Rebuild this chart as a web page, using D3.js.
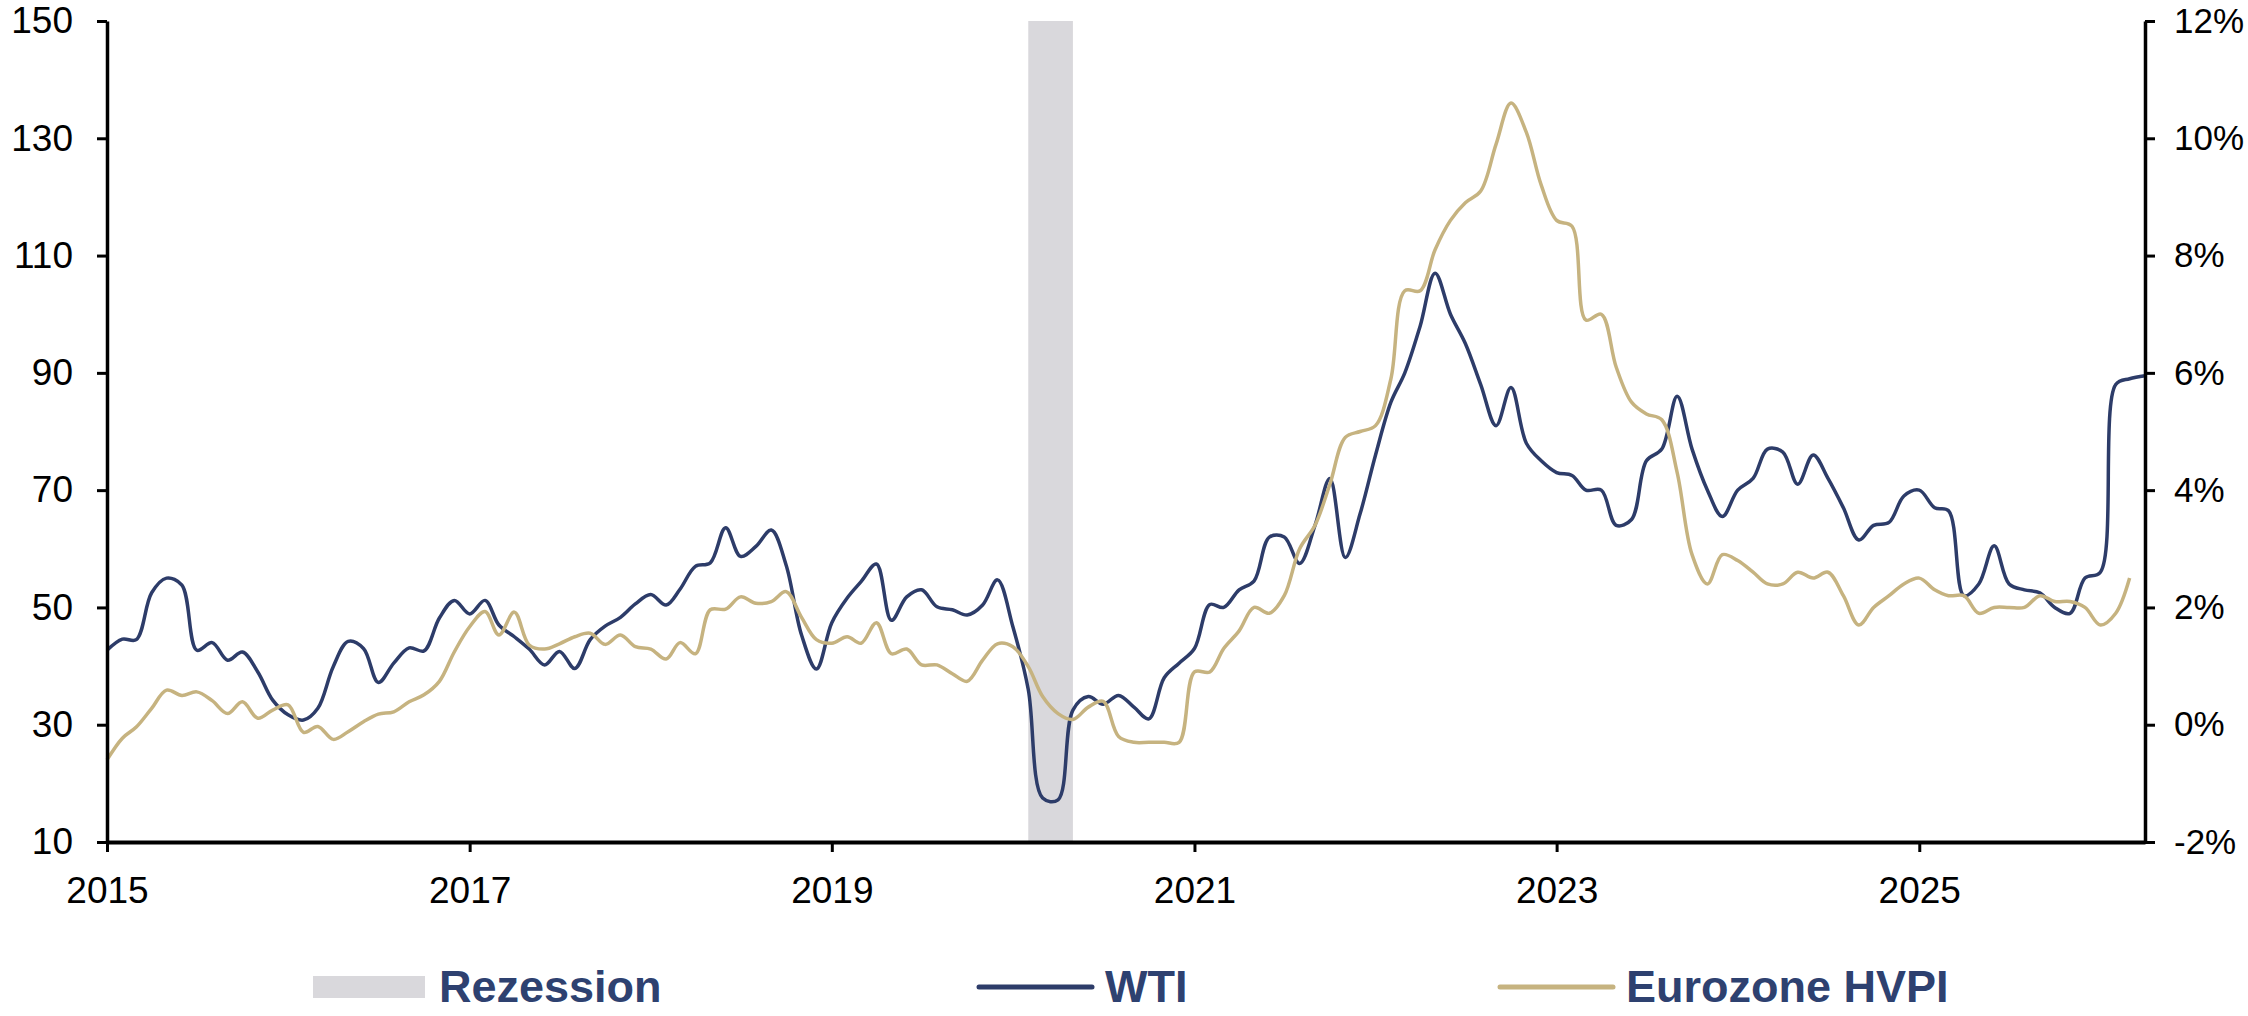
<!DOCTYPE html>
<html lang="de">
<head>
<meta charset="utf-8">
<title>WTI und Eurozone HVPI</title>
<script src="https://cdn.jsdelivr.net/npm/d3@7"></script>
<style>
  html, body { margin: 0; padding: 0; background: #fff; }
  svg { display: block; font-family: 'Liberation Sans', Arial, Helvetica, sans-serif; }
</style>
</head>
<body>
<div id="chart"></div>
<script>

// ── Daten ────────────────────────────────────────────────────────────────
// Monatswerte ab Januar 2015

const first_month = new Date(2015, 0, 1);
const last_month  = new Date(2026, 3, 1);

// WTI (linke Achse)
const wti = [
  42.7, 44.6, 44.5, 52.5, 55.0, 53.8, 42.7, 44.0, 41.0, 42.4, 39.0, 34.2,   // 2015
  31.7, 30.8, 32.8, 39.9, 44.2, 43.0, 37.2, 40.5, 43.1, 42.6, 48.2, 51.2,   // 2016
  48.9, 51.2, 47.0, 45.0, 42.9, 40.2, 42.5, 39.6, 44.5, 46.8, 48.3, 50.6,   // 2017
  52.2, 50.4, 53.1, 57.0, 57.6, 63.6, 58.7, 60.4, 63.2, 57.2, 45.3, 39.5,   // 2018
  47.4, 51.6, 54.4, 57.4, 47.8, 51.8, 53.0, 50.1, 49.6, 48.7, 50.4, 54.7,   // 2019
  46.7, 36.0, 17.5, 17.2, 32.5, 34.8, 33.5, 35.0, 33.0, 31.0, 38.0, 40.5,   // 2020
  43.0, 50.5, 50.0, 53.0, 54.5, 62.0, 62.0, 57.5, 64.0, 72.0, 58.5, 66.0,   // 2021
  76.0, 85.0, 90.0, 98.0, 107.0, 100.0, 95.0, 88.0, 81.0, 87.5, 78.0, 75.0, // 2022
  73.0, 72.5, 70.0, 70.0, 64.0, 65.0, 75.0, 77.0, 86.0, 77.0, 70.0, 65.5,   // 2023
  70.0, 72.0, 77.0, 76.5, 71.0, 76.0, 72.0, 67.0, 61.5, 64.0, 64.5, 69.0,   // 2024
  70.0, 67.0, 66.5, 52.0, 54.0, 60.5, 54.0, 53.0, 52.5, 50.0, 49.0, 55.0,   // 2025
  56.0, 88.0, 89.0, 89.5                                                    // 2026
];

// Eurozone HVPI in % ggü. Vorjahr (rechte Achse)
const hvpi = [
  -0.60, -0.23, -0.04, 0.28, 0.59, 0.50, 0.56, 0.41, 0.19, 0.39, 0.11, 0.25,  // 2015
   0.34, -0.13, -0.03, -0.25, -0.12, 0.05, 0.18, 0.22, 0.39, 0.51, 0.74, 1.24, // 2016
   1.67, 1.93, 1.53, 1.92, 1.36, 1.29, 1.38, 1.50, 1.56, 1.37, 1.53, 1.33,    // 2017
   1.29, 1.12, 1.40, 1.21, 1.96, 1.97, 2.18, 2.07, 2.10, 2.27, 1.83, 1.45,    // 2018
   1.39, 1.50, 1.39, 1.74, 1.21, 1.29, 1.02, 1.02, 0.87, 0.74, 1.10, 1.38,    // 2019
   1.33, 0.99, 0.48, 0.19, 0.09, 0.30, 0.40, -0.20, -0.30, -0.30, -0.30, -0.30, // 2020
   0.9, 0.9, 1.3, 1.6, 2.0, 1.9, 2.2, 3.0, 3.4, 4.1, 4.9, 5.0,                // 2021
   5.1, 5.9, 7.4, 7.4, 8.1, 8.6, 8.9, 9.1, 9.9, 10.6, 10.1, 9.2,              // 2022
   8.6, 8.5, 6.9, 7.0, 6.1, 5.5, 5.3, 5.2, 4.3, 2.9, 2.4, 2.9,                // 2023
   2.8, 2.6, 2.4, 2.4, 2.6, 2.5, 2.6, 2.2, 1.7, 2.0, 2.2, 2.4,                // 2024
   2.5, 2.3, 2.2, 2.2, 1.9, 2.0, 2.0, 2.0, 2.2, 2.1, 2.1, 2.0,                // 2025
   1.7, 1.9, 2.5                                                              // 2026
];

// Rezession (Monatsanfang bis Monatsanfang)
const recession = [new Date(2020, 1, 1), new Date(2020, 4, 1)];

// Achsenbeschriftungen
const year_ticks  = [2015, 2017, 2019, 2021, 2023, 2025];
const left_ticks  = [10, 30, 50, 70, 90, 110, 130, 150];
const right_ticks = [-2, 0, 2, 4, 6, 8, 10, 12];

const legend_items = [
  { label: 'Rezession',     type: 'rect' },
  { label: 'WTI',           type: 'line', color: '#2d3c69' },
  { label: 'Eurozone HVPI', type: 'line', color: '#c6b380' }
];

// ── Setup ────────────────────────────────────────────────────────────────

const width = 2248, height = 1016;
const margin = { top: 21, right: 103, bottom: 174, left: 107 };

const navy = '#2d3c69', tan = '#c6b380', grey = '#d9d8dc', text_navy = '#2e4170';

const months = d3.timeMonth.range(first_month, d3.timeMonth.offset(last_month, 1));

const x = d3.scaleTime()
  .domain([first_month, last_month])
  .range([margin.left, width - margin.right]);

const yL = d3.scaleLinear()
  .domain([10, 150])
  .range([height - margin.bottom, margin.top]);

const yR = d3.scaleLinear()
  .domain([-2, 12])
  .range([height - margin.bottom, margin.top]);

const svg = d3.select('#chart').append('svg')
  .attr('width', width)
  .attr('height', height)
  .attr('viewBox', [0, 0, width, height]);

const band    = svg.append('g').attr('id', 'rezession');
const lines   = svg.append('g').attr('id', 'linien');
const axes    = svg.append('g').attr('id', 'achsen');
const legend  = svg.append('g').attr('id', 'legende');

// ── Rezession ────────────────────────────────────────────────────────────

band.append('rect')
  .attr('x', x(recession[0]))
  .attr('y', margin.top)
  .attr('width', x(recession[1]) - x(recession[0]))
  .attr('height', yL.range()[0] - margin.top)
  .attr('fill', grey);

// ── Linien ───────────────────────────────────────────────────────────────

const wti_line = d3.line()
  .x((d, i) => x(months[i]))
  .y(d => yL(d))
  .curve(d3.curveCatmullRom.alpha(0.5));

const hvpi_line = d3.line()
  .x((d, i) => x(months[i]))
  .y(d => yR(d))
  .curve(d3.curveCatmullRom.alpha(0.5));

lines.append('path')
  .datum(wti)
  .attr('d', wti_line)
  .attr('fill', 'none')
  .attr('stroke', navy)
  .attr('stroke-width', 3.5)
  .attr('stroke-linejoin', 'round');

lines.append('path')
  .datum(hvpi)
  .attr('d', hvpi_line)
  .attr('fill', 'none')
  .attr('stroke', tan)
  .attr('stroke-width', 3.5)
  .attr('stroke-linejoin', 'round');

// ── Achsen ───────────────────────────────────────────────────────────────

const styleAxis = (g, w, fs) => {
  g.select('.domain').attr('stroke', '#000').attr('stroke-width', w);
  g.selectAll('.tick line').attr('stroke', '#000').attr('stroke-width', 3);
  g.selectAll('.tick text').attr('fill', '#000').attr('font-size', fs);
};

axes.append('g')
  .attr('transform', `translate(${margin.left},0)`)
  .call(d3.axisLeft(yL).tickValues(left_ticks).tickSize(10).tickSizeOuter(0).tickPadding(24))
  .call(g => styleAxis(g, 3.5, 37))
  .attr('font-family', null);

// rechte Achse etwas kleiner, damit "12%" nicht am Rand abgeschnitten wird
axes.append('g')
  .attr('transform', `translate(${width - margin.right},0)`)
  .call(d3.axisRight(yR).tickValues(right_ticks).tickSize(10).tickSizeOuter(0).tickPadding(19)
    .tickFormat(d => d + '%'))
  .call(g => styleAxis(g, 3.5, 35))
  .attr('font-family', null);

axes.append('g')
  .attr('transform', `translate(0,${height - margin.bottom})`)
  .call(d3.axisBottom(x).tickValues(year_ticks.map(y => new Date(y, 0, 1))).tickSize(10).tickSizeOuter(0)
    .tickPadding(25).tickFormat(d3.timeFormat('%Y')))
  .call(g => styleAxis(g, 4, 37))
  .attr('font-family', null);

// ── Legende ──────────────────────────────────────────────────────────────

const legend_x = [313, 979, 1500];
const legend_y = 987;

legend_items.forEach((d, i) => {
  const g = legend.append('g').attr('transform', `translate(${legend_x[i]},${legend_y})`);
  if (d.type === 'rect') {
    g.append('rect').attr('x', 0).attr('y', -11).attr('width', 112).attr('height', 22).attr('fill', grey);
  } else {
    g.append('line').attr('x1', 0).attr('x2', 113).attr('y1', 0).attr('y2', 0)
      .attr('stroke', d.color).attr('stroke-width', 5).attr('stroke-linecap', 'round');
  }
  g.append('text')
    .attr('x', 126)
    .attr('y', 15)
    .attr('font-size', 45)
    .attr('font-weight', 'bold')
    .attr('fill', text_navy)
    .text(d.label);
});

</script>
</body>
</html>
